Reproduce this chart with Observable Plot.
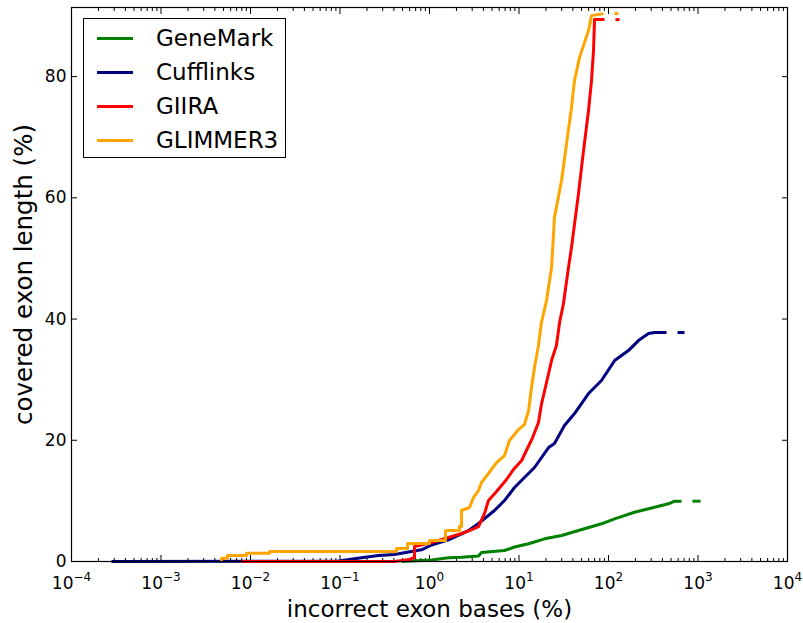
<!DOCTYPE html>
<html>
<head>
<meta charset="utf-8">
<script src="https://cdn.jsdelivr.net/npm/d3@7"></script>
<script src="https://cdn.jsdelivr.net/npm/@observablehq/plot@0.6"></script>
<style>
  html, body { margin: 0; padding: 0; background: #fff; }
  #fig { position: relative; width: 803px; height: 623px; font-family: "DejaVu Sans", sans-serif; }
  #legend { position: absolute; left: 83px; top: 18px; width: 201px; height: 138px;
            border: 1px solid #000; background: #fff; }
  .swatch { position: absolute; left: 13px; width: 36px; height: 3px; margin-top: -1.5px; }
  .label { position: absolute; left: 72px; font-size: 23px; line-height: 1;
           transform: translateY(-50%); white-space: nowrap; color: #000; }
</style>
</head>
<body>
<div id="fig"><div id="legend"></div></div>
<script>
// Cumulative covered exon length vs. incorrect exon bases, one curve per gene predictor.
const seriesNames = ["GeneMark", "Cufflinks", "GIIRA", "GLIMMER3"];
const seriesColors = ["#008000", "#000080", "#ff0000", "#ffa500"];

const genemarkX = [0.487, 1.053, 1.63, 2.28, 3.53, 3.81, 6.89, 8.91, 12.8, 19.3, 29.9, 46.2, 83.5, 117, 195, 327, 468, 546, 654];
const genemarkY = [0, 0.25, 0.61, 0.71, 0.91, 1.48, 1.81, 2.39, 2.92, 3.74, 4.29, 5.11, 6.22, 7.04, 8.13, 8.96, 9.52, 9.95, 9.95];

const cufflinksX = [0.00028, 0.0962, 0.174, 0.269, 0.406, 0.582, 0.814, 1.053, 1.63, 2.28, 2.73, 3.53, 5.32, 6.89, 8.91, 11.5, 14.9, 21.4, 24.9, 32.2, 41.7, 59.8, 83.5, 117, 167, 216, 280, 327, 445];
const cufflinksY = [0, 0.08, 0.61, 0.99, 1.15, 1.57, 1.93, 2.72, 3.58, 4.57, 5.11, 6.27, 8.41, 10.06, 12.21, 13.86, 15.51, 18.8, 19.46, 22.43, 24.41, 27.71, 29.86, 33.15, 34.8, 36.45, 37.61, 37.77, 37.77];

const giiraX = [0.00793, 0.406, 0.598, 0.68, 0.68, 1.053, 1.63, 2.28, 2.8, 3.53, 4.12, 4.56, 5.61, 7.25, 8.68, 10.7, 12.4, 14.2, 16.5, 17.8, 20.3, 23.1, 26.2, 28.4, 31.4, 35.7, 38.6, 46.2, 52.6, 59.8, 64.6, 68.0, 69.8, 90.2];
const giiraY = [0, 0, 0.33, 0.66, 2.47, 3.13, 3.96, 4.62, 5.11, 5.77, 7.92, 10.06, 11.55, 13.53, 15.18, 16.66, 18.64, 20.45, 22.93, 25.9, 29.53, 33.15, 35.63, 39.42, 42.56, 48.49, 51.79, 60.7, 67.79, 74.39, 79.34, 84.29, 89.4, 89.4];

const glimmerX = [0.00474, 0.00474, 0.00553, 0.00553, 0.00902, 0.00902, 0.0163, 0.0163, 0.428, 0.428, 0.568, 0.568, 1.0, 1.0, 1.51, 1.51, 2.16, 2.16, 2.28, 2.28, 2.8, 3.1, 3.53, 3.81, 4.56, 5.61, 6.89, 7.83, 9.87, 11.5, 12.8, 13.8, 14.9, 16.5, 17.8, 20.3, 23.1, 24.9, 29.9, 34.0, 38.6, 41.7, 47.4, 59.8, 64.6, 87.9];
const glimmerY = [0, 0.54, 0.54, 0.99, 0.99, 1.37, 1.37, 1.65, 1.65, 2.14, 2.14, 2.97, 2.97, 3.46, 3.46, 5.11, 5.11, 5.77, 5.77, 8.41, 8.91, 10.56, 11.71, 13.03, 14.52, 16.33, 17.48, 19.96, 21.77, 22.6, 24.91, 28.7, 32.0, 35.63, 39.42, 43.05, 48.49, 56.74, 62.85, 68.95, 74.89, 79.34, 83.13, 87.59, 90.06, 90.39];

// where each curve's dashed continuation stops
const tailEnds = [1066, 707, 133, 129];

// axis ticks and labels
const xMajor = [1e-4, 1e-3, 1e-2, 1e-1, 1, 10, 100, 1e3, 1e4];
const xExponentLabels = ["\u22124", "\u22123", "\u22122", "\u22121", "0", "1", "2", "3", "4"];
const yTicks = [0, 20, 40, 60, 80];

const xMinor = [];
for (let k = -4; k < 4; ++k) for (let m = 2; m <= 9; ++m) xMinor.push(m * Math.pow(10, k));

const seriesX = [genemarkX, cufflinksX, giiraX, glimmerX];
const seriesY = [genemarkY, cufflinksY, giiraY, glimmerY];

const rows = seriesNames.flatMap((name, s) => seriesX[s].map((x, i) => ({name, x, y: seriesY[s][i]})));
const tails = seriesNames.flatMap((name, s) => {
  const n = seriesX[s].length;
  const y = seriesY[s][n - 1];
  return [{name, x: seriesX[s][n - 1], y}, {name, x: tailEnds[s], y}];
});

const tickLabels = xMajor.map((v, i) => ({v, exp: xExponentLabels[i], neg: xExponentLabels[i].startsWith("\u2212")}));
const negLabels = tickLabels.filter(d => d.neg);
const posLabels = tickLabels.filter(d => !d.neg);

const chart = Plot.plot({
  width: 803,
  height: 623,
  marginLeft: 71,
  marginRight: 16,
  marginTop: 7,
  marginBottom: 62,
  style: {fontFamily: "DejaVu Sans", fontSize: "17px", color: "#000", background: "#fff"},
  x: {type: "log", domain: [1e-4, 1e4]},
  y: {domain: [0, 91.4]},
  color: {domain: seriesNames, range: seriesColors},
  marks: [
    // inward ticks on all four sides
    Plot.axisX({anchor: "bottom", ticks: xMajor, tickSize: -6, tickFormat: () => "", label: null}),
    Plot.axisX({anchor: "bottom", ticks: xMinor, tickSize: -3, tickFormat: () => "", label: null}),
    Plot.axisX({anchor: "top", ticks: xMajor, tickSize: -6, tickFormat: () => "", label: null}),
    Plot.axisX({anchor: "top", ticks: xMinor, tickSize: -3, tickFormat: () => "", label: null}),
    Plot.axisY({anchor: "left", ticks: yTicks, tickSize: -6, tickPadding: 11, fontSize: 17, label: null}),
    Plot.axisY({anchor: "right", ticks: yTicks, tickSize: -6, tickFormat: () => "", label: null}),
    // power-of-ten tick labels: base and raised exponent
    Plot.text(negLabels, {x: "v", text: () => "10", frameAnchor: "bottom", textAnchor: "end", lineAnchor: "bottom", dx: 2, dy: 27, fontSize: 17}),
    Plot.text(negLabels, {x: "v", text: "exp", frameAnchor: "bottom", textAnchor: "start", lineAnchor: "bottom", dx: 2, dy: 19, fontSize: 12}),
    Plot.text(posLabels, {x: "v", text: () => "10", frameAnchor: "bottom", textAnchor: "end", lineAnchor: "bottom", dx: 7, dy: 27, fontSize: 17}),
    Plot.text(posLabels, {x: "v", text: "exp", frameAnchor: "bottom", textAnchor: "start", lineAnchor: "bottom", dx: 7, dy: 19, fontSize: 12}),
    // axis titles
    Plot.text(["incorrect exon bases (%)"], {frameAnchor: "bottom", textAnchor: "middle", lineAnchor: "bottom", dy: 55, fontSize: 23}),
    Plot.text(["covered exon length (%)"], {frameAnchor: "left", textAnchor: "middle", lineAnchor: "bottom", rotate: -90, dx: -40, dy: -10, fontSize: 24.5}),
    // curves and their dashed continuations
    Plot.line(rows, {x: "x", y: "y", z: "name", stroke: "name", strokeWidth: 3, strokeLinecap: "butt", strokeLinejoin: "round"}),
    Plot.line(tails, {x: "x", y: "y", z: "name", stroke: "name", strokeWidth: 3, strokeLinecap: "butt", strokeDasharray: "8 11", strokeDashoffset: 8}),
    Plot.frame({stroke: "#000", strokeWidth: 1.2})
  ]
});

const fig = document.getElementById("fig");
fig.insertBefore(chart, fig.firstChild);

// legend in the upper-left corner of the axes
const legend = document.getElementById("legend");
const rowCenters = [19, 53, 87, 121];
seriesNames.forEach((name, i) => {
  const sw = document.createElement("div");
  sw.className = "swatch";
  sw.style.top = rowCenters[i] + "px";
  sw.style.background = seriesColors[i];
  legend.appendChild(sw);
  const lb = document.createElement("div");
  lb.className = "label";
  lb.style.top = rowCenters[i] + "px";
  lb.textContent = name;
  legend.appendChild(lb);
});
</script>
</body>
</html>
